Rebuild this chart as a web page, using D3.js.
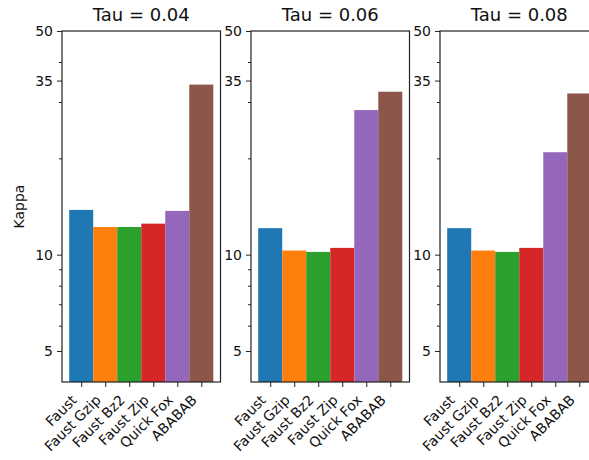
<!doctype html>
<html lang="en">
<head>
<meta charset="utf-8">
<title>Kappa by Tau</title>
<script src="https://cdn.jsdelivr.net/npm/d3@7"></script>
<style>
  body { margin: 0; background: #fff; }
  svg { display: block; font-family: "DejaVu Sans", sans-serif; }
</style>
</head>
<body>
<svg id="chart" width="589" height="460"></svg>
<script>
// data
var sources = ["Faust", "Faust Gzip", "Faust Bz2", "Faust Zip", "Quick Fox", "ABABAB"];
var taus = ["0.04", "0.06", "0.08"];
var kappa004 = [13.8, 12.2, 12.2, 12.5, 13.7, 34.0];
var kappa006 = [12.1, 10.3, 10.2, 10.5, 28.3, 32.3];
var kappa008 = [12.1, 10.3, 10.2, 10.5, 20.9, 31.9];
var majorTicks = [5, 10, 35, 50];
var minorTicks = [6, 7, 8, 9, 20, 30, 40];
var colors = ["#1f77b4", "#ff7f0e", "#2ca02c", "#d62728", "#9467bd", "#8c564b"];

var series = [kappa004, kappa006, kappa008];

var svg = d3.select("#chart");
var plotTop = 31, plotBottom = 382, pw = 158.5;
var panelLeft = d3.scaleLinear().domain([0, 1]).range([62, 251]);

var y = d3.scaleLog().domain([4, 50]).range([plotBottom, plotTop]);
var x = d3.scaleLinear().domain([-0.8, 5.8]).range([0, pw]);

series.forEach(function (vals, p) {
  var g = svg.append("g").attr("transform", "translate(" + panelLeft(p) + ",0)");

  g.selectAll("rect.bar")
    .data(vals)
    .join("rect")
    .attr("class", "bar")
    .attr("x", (d, i) => x(i - 0.5))
    .attr("width", (d, i) => x(i + 0.5) - x(i - 0.5))
    .attr("y", d => y(d))
    .attr("height", d => plotBottom - y(d))
    .attr("fill", (d, i) => colors[i]);

  // y axis, major + minor
  var yAxis = d3.axisLeft(y).tickValues(majorTicks).tickFormat(d3.format("d"))
    .tickSize(5).tickPadding(4);
  var ya = g.append("g").call(yAxis);
  ya.select(".domain").remove();
  ya.selectAll("text").attr("font-size", 14).attr("fill", "#111").attr("font-family", "DejaVu Sans");
  ya.selectAll("line").attr("stroke", "#222");

  var ym = g.append("g").call(d3.axisLeft(y).tickValues(minorTicks).tickFormat("").tickSize(3));
  ym.select(".domain").remove();
  ym.selectAll("line").attr("stroke", "#222");

  // x axis, labels turned 45 degrees
  var xAxis = d3.axisBottom(x).tickValues(d3.range(sources.length))
    .tickFormat(i => sources[i]).tickSize(5);
  var xa = g.append("g").attr("transform", "translate(0," + plotBottom + ")").call(xAxis);
  xa.select(".domain").remove();
  xa.selectAll("line").attr("stroke", "#222");
  xa.selectAll("text")
    .attr("font-size", 14)
    .attr("fill", "#111")
    .attr("font-family", "DejaVu Sans")
    .attr("text-anchor", "end")
    .attr("dy", null)
    .attr("y", 0)
    .attr("transform", "translate(-4,19) rotate(-45)");

  // frame
  g.append("rect")
    .attr("x", 0).attr("y", plotTop)
    .attr("width", pw).attr("height", plotBottom - plotTop)
    .attr("fill", "none").attr("stroke", "#222").attr("stroke-width", 1.2);

  g.append("text")
    .attr("x", pw / 2).attr("y", 21)
    .attr("text-anchor", "middle")
    .attr("font-size", 18)
    .attr("fill", "#111")
    .text("Tau = " + taus[p]);
});

svg.append("text")
  .attr("transform", "translate(24," + ((plotTop + plotBottom) / 2) + ") rotate(-90)")
  .attr("text-anchor", "middle")
  .attr("font-size", 14)
  .attr("fill", "#111")
  .text("Kappa");
</script>
</body>
</html>
